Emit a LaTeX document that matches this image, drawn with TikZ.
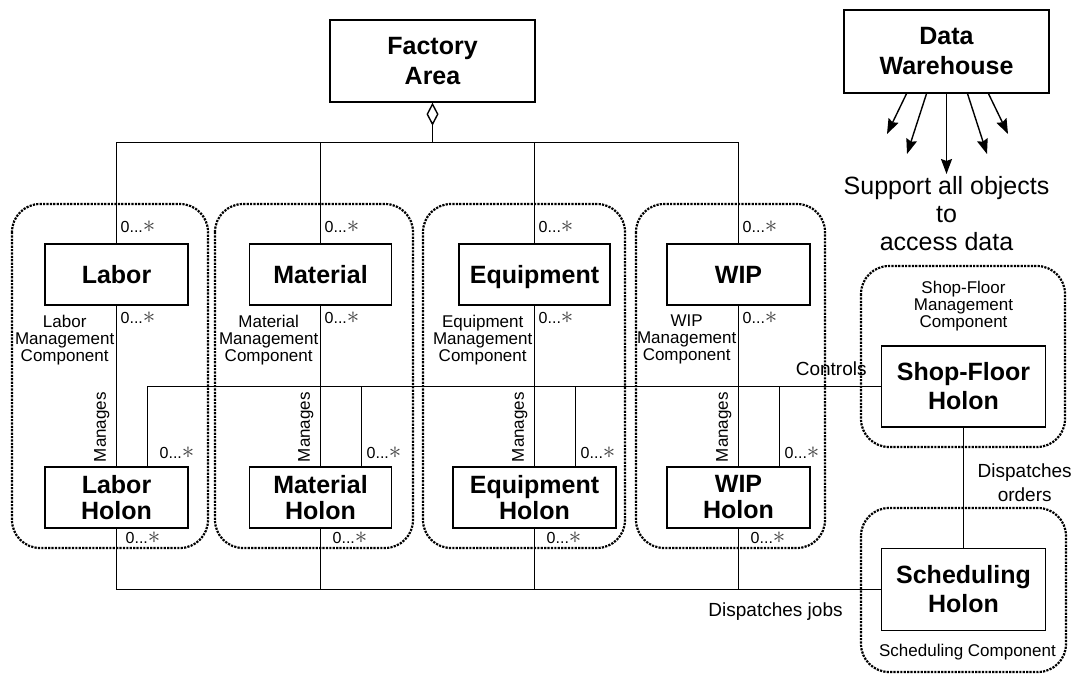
\documentclass[tikz,border=0pt]{standalone}
\usepackage{fontspec}
\setmainfont{Liberation Sans}
\usetikzlibrary{arrows.meta,shapes.geometric}
\tikzset{
  classbox/.style = {draw, line width=1.4pt, align=center, inner sep=0pt,
    font=\bfseries\fontsize{25}{30}\selectfont, minimum width=143pt, minimum height=61pt},
  holonbox/.style = {classbox, font=\bfseries\fontsize{25}{26}\selectfont},
  bigbox/.style = {classbox, font=\bfseries\fontsize{25}{29}\selectfont, minimum width=164pt},
  link/.style = {black, line width=1.4pt},
  feed/.style = {black, line width=1.4pt, -{Stealth[length=15pt,width=11pt,inset=2pt]}},
  group/.style = {dash pattern=on 2.2pt off 1.2pt, line width=2.2pt, rounded corners=28pt},
  mult/.style = {inner sep=1pt, font=\fontsize{16}{17}\selectfont},
  comp/.style = {inner sep=1pt, align=center, font=\fontsize{17}{17}\selectfont},
  lbl/.style = {inner sep=1pt, align=center, font=\fontsize{19}{24}\selectfont},
}
\newcommand{\many}{0...\textcolor{black!75}{\fontsize{24}{24}\selectfont$\ast$}}

\begin{document}
\begin{tikzpicture}[x=1pt, y=-1pt]
  \useasboundingbox (0,0) rectangle (1075,677);

  % dotted components
  \draw[group] (12,204) rectangle (208,548);
  \draw[group] (215,204) rectangle (413,548);
  \draw[group] (423,204) rectangle (625,548);
  \draw[group] (636,204) rectangle (825,548);
  \draw[group] (861,266) rectangle (1065,447);
  \draw[group] (861,508) rectangle (1066,672);

  % boxes
  \node[classbox, minimum width=205pt, minimum height=82pt] (fa) at (432.5,61) {Factory\\Area};
  \node[classbox, minimum width=205pt, minimum height=83pt] (dw) at (946.5,51.5) {Data\\Warehouse};
  \node[classbox] (labor) at (116.5,274.5) {Labor};
  \node[classbox, minimum width=142pt] (material) at (320.5,274.5) {Material};
  \node[classbox, minimum width=151pt, text depth=0pt] (equip) at (534.5,274.5) {Equipment};
  \node[classbox] (wip) at (738.5,274.5) {WIP};
  \node[holonbox] (laborH) at (116.5,497.5) {Labor\\Holon};
  \node[holonbox, minimum width=142pt] (materialH) at (320.5,497.5) {Material\\Holon};
  \node[holonbox, minimum width=163pt] (equipH) at (534.5,497.5) {Equipment\\Holon};
  \node[holonbox] (wipH) at (738.5,497.5) {WIP\\Holon};
  \node[bigbox, minimum height=81pt] (shop) at (963.5,386.5) {Shop-Floor\\Holon};
  \node[bigbox, minimum height=82pt] (sched) at (963.5,589.5) {Scheduling\\Holon};

  % aggregation
  \coordinate (agg) at (432.5,142.5);
  \draw[link, -{Diamond[open, length=23pt, width=12pt]}] (agg) -- (fa.south);
  \draw[link] (labor.north) |- (wip.north |- agg) -- (wip.north);
  \draw[link] (material.north) -- (material.north |- agg);
  \draw[link] (equip.north) -- (equip.north |- agg);

  % manages
  \path (labor) edge[link] (laborH);
  \path (material) edge[link] (materialH);
  \path (equip) edge[link] (equipH);
  \path (wip) edge[link] (wipH);

  % controls
  \draw[link] (shop.west) -| ([xshift=31pt]laborH.north);
  \draw[link] (shop.west) -| ([xshift=41pt]materialH.north);
  \draw[link] (shop.west) -| ([xshift=41pt]equipH.north);
  \draw[link] (shop.west) -| ([xshift=41pt]wipH.north);

  % dispatches
  \draw[link] (laborH.south) |- (sched.west);
  \draw[link] (materialH.south) |- (sched.west);
  \draw[link] (equipH.south) |- (sched.west);
  \draw[link] (wipH.south) |- (sched.west);
  \path (shop) edge[link] (sched);

  % data warehouse
  \coordinate (dw1) at (887,134);
  \coordinate (dw2) at (907,154);
  \coordinate (dw3) at (946.5,174);
  \coordinate (dw4) at (987,154);
  \coordinate (dw5) at (1008,134);
  \draw[feed] ([xshift=-40pt]dw.south) -- (dw1);
  \draw[feed] ([xshift=-20pt]dw.south) -- (dw2);
  \draw[feed] (dw.south) -- (dw3);
  \draw[feed] ([xshift=21pt]dw.south) -- (dw4);
  \draw[feed] ([xshift=42pt]dw.south) -- (dw5);
  \node[anchor=north, inner sep=0pt, align=center, font=\fontsize{25}{28}\selectfont]
    (support) at ([yshift=-2pt]dw3) {Support all objects\\to\\access data};

  % multiplicities
  \node[mult, anchor=south west] (m1) at ([xshift=3pt,yshift=9pt]labor.north) {\many};
  \node[mult, anchor=south west] (m2) at ([xshift=3pt,yshift=9pt]material.north) {\many};
  \node[mult, anchor=south west] (m3) at ([xshift=3pt,yshift=9pt]equip.north) {\many};
  \node[mult, anchor=south west] (m4) at ([xshift=3pt,yshift=9pt]wip.north) {\many};
  \node[mult, anchor=north west] (m5) at ([xshift=3pt,yshift=-5pt]labor.south) {\many};
  \node[mult, anchor=north west] (m6) at ([xshift=3pt,yshift=-5pt]material.south) {\many};
  \node[mult, anchor=north west] (m7) at ([xshift=3pt,yshift=-5pt]equip.south) {\many};
  \node[mult, anchor=north west] (m8) at ([xshift=3pt,yshift=-5pt]wip.south) {\many};
  \node[mult, anchor=south west] (m9) at ([xshift=42pt,yshift=6pt]laborH.north) {\many};
  \node[mult, anchor=south west] (m10) at ([xshift=45pt,yshift=6pt]materialH.north) {\many};
  \node[mult, anchor=south west] (m11) at ([xshift=45pt,yshift=6pt]equipH.north) {\many};
  \node[mult, anchor=south west] (m12) at ([xshift=45pt,yshift=6pt]wipH.north) {\many};
  \node[mult, anchor=north west] (m13) at ([xshift=8pt,yshift=-2pt]laborH.south) {\many};
  \node[mult, anchor=north west] (m14) at ([xshift=11pt,yshift=-2pt]materialH.south) {\many};
  \node[mult, anchor=north west] (m15) at ([xshift=11pt,yshift=-2pt]equipH.south) {\many};
  \node[mult, anchor=north west] (m16) at ([xshift=11pt,yshift=-2pt]wipH.south) {\many};

  % component names
  \node[comp, anchor=north east] (c1) at ([xshift=-1pt,yshift=-8pt]labor.south) {Labor\\Management\\Component};
  \node[comp, anchor=north east] (c2) at ([xshift=-1pt,yshift=-8pt]material.south) {Material\\Management\\Component};
  \node[comp, anchor=north east] (c3) at ([xshift=-1pt,yshift=-8pt]equip.south) {Equipment\\Management\\Component};
  \node[comp, anchor=north east] (c4) at ([xshift=-1pt,yshift=-8pt]wip.south) {WIP\\Management\\Component};
  \node[comp, anchor=south] (c5) at ([yshift=13pt]shop.north) {Shop-Floor\\Management\\Component};
  \node[comp, anchor=north] (c6) at ([xshift=4pt,yshift=-12pt]sched.south) {Scheduling Component};

  % relation names
  \node[comp, rotate=90, anchor=south west] (r1) at ([xshift=-6pt,yshift=3pt]laborH.north) {Manages};
  \node[comp, rotate=90, anchor=south west] (r2) at ([xshift=-6pt,yshift=3pt]materialH.north) {Manages};
  \node[comp, rotate=90, anchor=south west] (r3) at ([xshift=-6pt,yshift=3pt]equipH.north) {Manages};
  \node[comp, rotate=90, anchor=south west] (r4) at ([xshift=-6pt,yshift=3pt]wipH.north) {Manages};
  \node[lbl, anchor=south east] (ctrl) at ([xshift=-13pt,yshift=10pt]shop.west) {Controls};
  \node[lbl, anchor=north west] (dord) at ([xshift=13pt,yshift=-35pt]shop.south) {Dispatches\\orders};
  \node[lbl, anchor=north east] (djob) at ([xshift=-37pt,yshift=-12pt]sched.west) {Dispatches jobs};
\end{tikzpicture}
\end{document}
